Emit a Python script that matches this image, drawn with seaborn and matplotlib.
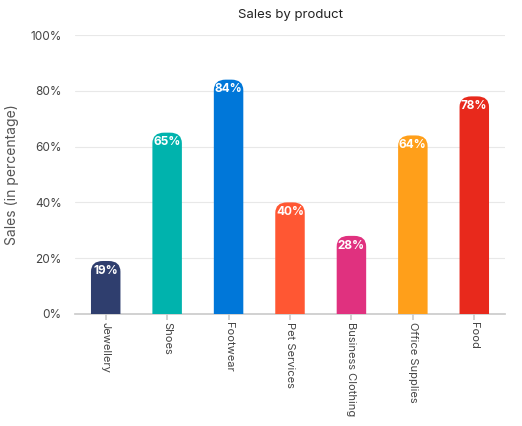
import matplotlib
matplotlib.use("Agg")
import matplotlib.pyplot as plt
import seaborn as sns
from matplotlib.patches import FancyBboxPatch

products = ["Jewellery", "Shoes", "Footwear", "Pet Services", "Business Clothing", "Office Supplies", "Food"]
sales = [19, 65, 84, 40, 28, 64, 78]
colors = ["#2f3e6e", "#00b3ad", "#0077d9", "#ff5733", "#e0317f", "#ff9f1a", "#e8291c"]

sns.set_theme(style="white")
plt.rcParams['font.family'] = ['Inter', 'DejaVu Sans']
fig = plt.figure(figsize=(5.22, 4.26), dpi=100)
ax = fig.add_axes([75/522, 1-314/426, 430/522, 279/426])
sns.barplot(x=products, y=sales, hue=products, palette=colors, legend=False, ax=ax, width=0.48)
ax.set_ylim(0, 100)
xr = 7 / 430
yr = 100 / 279
for p, v, c in zip(list(ax.patches), sales, colors):
    x0, w = p.get_x(), p.get_width()
    p.set_visible(False)
    r = w * 0.4
    fb = FancyBboxPatch((x0, -10), w, v + 10, boxstyle=f"round,pad=0,rounding_size={r}",
                        mutation_aspect=yr / xr * 0.9, facecolor=c, edgecolor="none", zorder=3)
    ax.add_patch(fb)
    ax.text(x0 + w / 2, v - 3.5, f"{v}%", ha="center", va="center", color="white",
            fontsize=8.5, fontweight="bold", zorder=4)
ax.set_yticks(range(0, 101, 20))
ax.set_yticklabels([f"{t}%" for t in range(0, 101, 20)], fontsize=8.5, color="#444")
ax.set_xticks(range(len(products)))
ax.set_xticklabels(products, rotation=270, fontsize=8, color="#444", va="top", ha="center")
ax.yaxis.grid(True, color="#e8e8e8", lw=0.8, zorder=0)
ax.set_axisbelow(True)
for s in ["top", "right", "left"]:
    ax.spines[s].set_visible(False)
ax.spines["bottom"].set_color("#cccccc")
ax.tick_params(axis="x", bottom=True, length=4, color="#cccccc", pad=2)
ax.tick_params(axis="y", left=False)
ax.set_ylabel("Sales (in percentage)", fontsize=10, color="#555", labelpad=8)
ax.set_xlabel("")
ax.set_title("Sales by product", fontsize=9.5, color="#222", pad=12)
fig.savefig("out.png", dpi=100)
